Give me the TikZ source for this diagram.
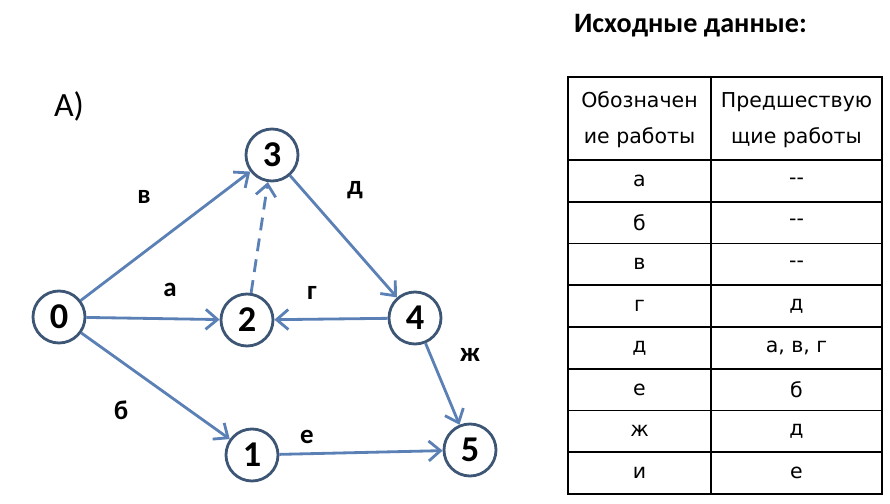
\documentclass[tikz,border=0pt]{standalone}
\usepackage{fontspec}
\setmainfont{Carlito}
\newfontfamily\tablefont{DejaVu Sans}
\usepackage{xcolor}
\definecolor{edgeblue}{HTML}{5A80B6}
\definecolor{ringblue}{HTML}{3D5675}
\usetikzlibrary{arrows.meta}

\begin{document}
\begin{tikzpicture}[x=0.03cm, y=-0.03cm,
    event/.style={circle, draw=ringblue, line width=2.4pt, fill=white, minimum size=1.56cm, inner sep=0pt, font=\fontsize{31}{31}\selectfont\bfseries},
    work/.style={draw=edgeblue, line width=2.4pt, -{Straight Barb[length=10pt, width=17pt]}},
    worklabel/.style={font=\fontsize{23}{23}\selectfont\bfseries},
    cell/.style={font=\tablefont\fontsize{17.5}{31}\selectfont, align=center}]
    \useasboundingbox[fill=white] (0,0) rectangle (890,504);
    % Title
    \node[font=\fontsize{24}{24}\selectfont\bfseries, anchor=west] (title) at (570,26) {Исходные данные:};
    \node[font=\fontsize{29}{29}\selectfont] (variant) at (69,106) {А)};
    % Events
    \node[event] (e0) at (59,317) {0};
    \node[event] (e3) at (272,155) {3};
    \node[event] (e2) at (247,320) {2};
    \node[event] (e4) at (415,318) {4};
    \node[event] (e1) at (252,455) {1};
    \node[event] (e5) at (470,450) {5};
    % Works
    \draw[work] (e0) -- (e3);
    \draw[work] (e0) -- (e2);
    \draw[work] (e0) -- (e1);
    \draw[work] (e3) -- (e4);
    \draw[work] (e4) -- (e2);
    \draw[work] (e4) -- (e5);
    \draw[work] (e1) -- (e5);
    \draw[work, dash pattern=on 11pt off 7pt] (e2) -- (e3);
    % Work labels
    \node[worklabel] (lv) at (144,197) {в};
    \node[worklabel] (la) at (170,290) {а};
    \node[worklabel] (lb) at (121,410) {б};
    \node[worklabel] (ld) at (355,190) {д};
    \node[worklabel] (lg) at (312,293) {г};
    \node[worklabel] (lzh) at (470,355) {ж};
    \node[worklabel] (le) at (307,437) {е};
    % Table
    \draw[line width=1.3pt] (568,77) rectangle (882,494);
    \draw[line width=1.3pt] (711,77) -- (711,494);
    \foreach \i in {0,...,7} {
        \draw[line width=1.3pt] (568,160+41.75*\i) -- (882,160+41.75*\i);
    }
    \node[cell] (h1) at (639.5,120) {Обозначен\\ие работы};
    \node[cell] (h2) at (796.5,120) {Предшествую\\щие работы};
    \foreach \i/\w/\p in {1/а/-{}-, 2/б/-{}-, 3/в/-{}-, 4/г/д, 5/д/{а, в, г}, 6/е/б, 7/ж/д, 8/и/е} {
        \node[cell] (w\i) at (639.5,160+41.75*\i-20.9) {\w};
        \node[cell] (p\i) at (796.5,160+41.75*\i-20.9) {\p};
    }
\end{tikzpicture}
\end{document}
